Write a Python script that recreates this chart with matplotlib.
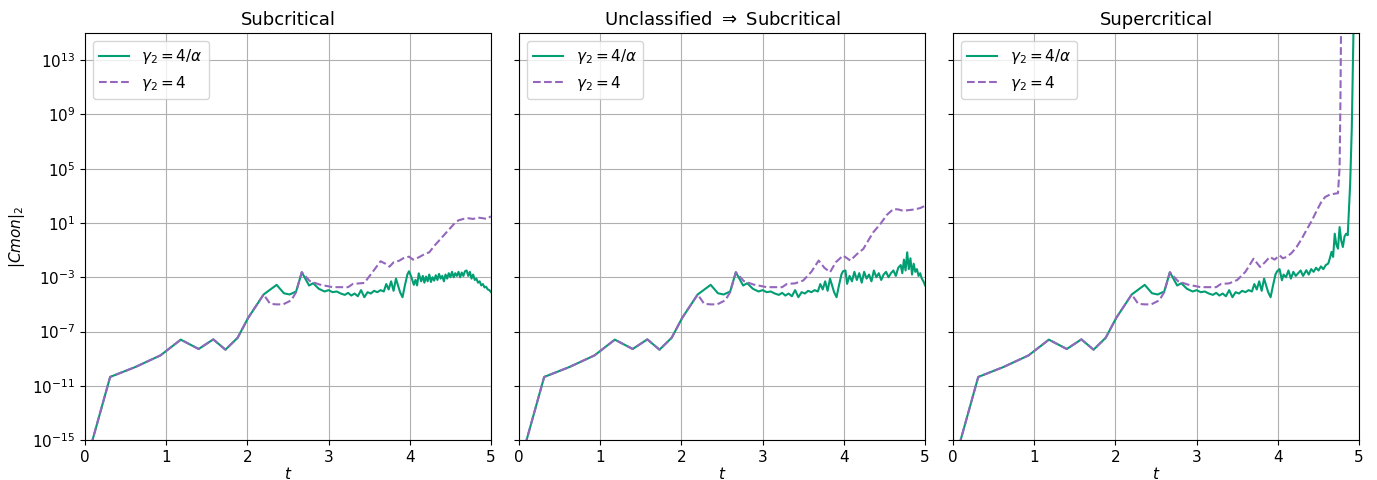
import numpy as np
import matplotlib
matplotlib.use("Agg")
import matplotlib.pyplot as plt

# values, stored as log10(|Cmon|_2)
titles = ["Subcritical", r"Unclassified $\Rightarrow$ Subcritical", "Supercritical"]
labels = [r"$\gamma_2 = 4/\alpha$", r"$\gamma_2 = 4$"]

# shared start (both series, all panels)
t_early = [0.0, 0.31, 0.62, 0.93, 1.18, 1.40, 1.58, 1.73, 1.88, 2.01, 2.20]
y_early = [-17.0, -10.35, -9.62, -8.76, -7.6, -8.29, -7.58, -8.34, -7.46, -5.99, -4.27]

# green middle part (same in all panels)
t_g_mid = [2.36, 2.45, 2.52, 2.60, 2.67, 2.76, 2.81, 2.88, 2.95, 3.00, 3.05, 3.10, 3.15,
           3.20, 3.24, 3.28, 3.32, 3.36, 3.40, 3.44, 3.48, 3.52, 3.56, 3.60, 3.64,
           3.68, 3.71, 3.74, 3.77, 3.80, 3.83, 3.86, 3.88, 3.91, 3.94, 3.97, 3.99]
y_g_mid = [-3.56, -4.18, -4.27, -4.05, -2.63, -3.61, -3.44, -3.85, -4.05, -3.95, -4.1, -4.05, -4.2,
           -4.3, -4.15, -4.35, -4.2, -4.4, -3.95, -4.47, -4.1, -4.2, -4.0, -4.1, -3.95,
           -4.05, -3.5, -3.9, -3.3, -4.0, -3.1, -3.7, -4.1, -4.47, -3.6, -2.8, -2.56]

# panel 1 green tail
t_g1 = [4.02, 4.05, 4.07, 4.09, 4.11, 4.14, 4.16, 4.18, 4.20, 4.22, 4.24, 4.26, 4.28, 4.30,
        4.32, 4.34, 4.36, 4.38, 4.40, 4.42, 4.44, 4.46, 4.48, 4.50, 4.52, 4.54, 4.56,
        4.58, 4.60, 4.62, 4.64, 4.66, 4.68, 4.70, 4.72, 4.74, 4.76, 4.78, 4.80, 4.82,
        4.84, 4.86, 4.88, 4.90, 4.92, 4.94, 4.96, 4.98, 5.00]
y_g1 = [-3.0, -3.56, -3.2, -3.6, -2.71, -3.3, -2.9, -3.4, -2.95, -3.3, -2.8, -3.35, -3.0, -3.25,
        -2.85, -3.2, -2.75, -3.1, -2.9, -3.3, -2.8, -3.1, -2.7, -3.0, -2.6, -3.0, -2.7,
        -2.9, -2.6, -3.0, -2.65, -2.9, -2.55, -2.5, -2.9, -2.6, -3.1, -2.8, -3.2, -3.1,
        -3.4, -3.3, -3.6, -3.5, -3.75, -3.7, -3.9, -3.95, -4.1]

# panel 2 green tail
t_g2 = [4.02, 4.04, 4.07, 4.10, 4.13, 4.16, 4.19, 4.22, 4.25, 4.28, 4.31, 4.34, 4.37, 4.40,
        4.43, 4.46, 4.49, 4.52, 4.55, 4.58, 4.61, 4.64, 4.67, 4.70, 4.72, 4.74, 4.76,
        4.78, 4.80, 4.82, 4.84, 4.86, 4.88, 4.90, 4.92, 4.94, 4.96, 4.98, 5.00]
y_g2 = [-2.5, -3.49, -2.9, -3.3, -2.6, -3.2, -2.7, -3.4, -2.6, -3.1, -2.8, -3.3, -2.5, -3.0,
        -2.7, -3.2, -2.8, -2.6, -3.0, -2.7, -2.5, -2.9, -2.3, -2.1, -2.7, -1.7, -2.5,
        -1.16, -2.4, -1.6, -2.8, -2.0, -2.6, -2.4, -2.9, -2.7, -3.1, -3.3, -3.6]

# panel 3 green tail
t_g3 = [4.02, 4.05, 4.07, 4.10, 4.13, 4.16, 4.19, 4.22, 4.25, 4.28, 4.31, 4.35, 4.38, 4.41,
        4.44, 4.47, 4.50, 4.53, 4.56, 4.59, 4.62, 4.64, 4.66, 4.68, 4.70, 4.72, 4.74,
        4.76, 4.78, 4.80, 4.82, 4.84, 4.86, 4.89, 4.91, 4.93, 4.95]
y_g3 = [-2.4, -3.22, -2.8, -3.0, -2.5, -3.1, -2.6, -2.9, -2.7, -2.5, -2.9, -2.48, -2.8, -2.4,
        -2.6, -2.3, -2.5, -2.2, -2.4, -2.1, -1.99, -1.6, -1.13, -1.5, 0.21, -0.6, -0.89,
        0.7, -0.3, -0.77, 0.0, 0.21, 0.1, 3.9, 8.0, 14.9, 17.0]

# purple middle part (same in all panels up to ~3.3)
t_p_mid = [2.28, 2.36, 2.44, 2.54, 2.60, 2.67, 2.77, 2.89, 3.05, 3.24, 3.30]
y_p_mid = [-4.96, -5.0, -5.0, -4.7, -4.1, -2.63, -3.29, -3.54, -3.73, -3.73, -3.49]

t_p1 = [3.44, 3.54, 3.64, 3.70, 3.75, 3.80, 3.87, 3.92, 3.99, 4.04, 4.07, 4.12, 4.18, 4.24,
        4.30, 4.36, 4.42, 4.48, 4.54, 4.60, 4.66, 4.72, 4.78, 4.84, 4.90, 4.95, 5.00]
y_p1 = [-3.42, -2.63, -1.82, -2.0, -2.22, -1.9, -1.78, -1.6, -1.48, -1.7, -1.65, -1.5, -1.3, -1.16,
        -0.7, -0.3, 0.1, 0.5, 0.9, 1.2, 1.3, 1.35, 1.3, 1.4, 1.35, 1.3, 1.5]

t_p2 = [3.40, 3.50, 3.60, 3.69, 3.76, 3.83, 3.90, 3.99, 4.04, 4.08, 4.16, 4.24, 4.30, 4.36,
        4.45, 4.53, 4.61, 4.67, 4.73, 4.80, 4.87, 4.94, 5.00]
y_p2 = [-3.45, -3.24, -2.6, -1.77, -2.3, -2.63, -1.9, -1.4, -1.6, -1.77, -1.3, -0.91, -0.3, 0.3,
        0.93, 1.6, 2.03, 2.0, 1.9, 1.95, 2.0, 2.1, 2.27]

t_p3 = [3.40, 3.50, 3.60, 3.70, 3.78, 3.84, 3.90, 3.96, 4.02, 4.06, 4.11, 4.17, 4.23, 4.29,
        4.35, 4.42, 4.48, 4.53, 4.58, 4.64, 4.70, 4.74, 4.76, 4.77, 4.78]
y_p3 = [-3.45, -3.2, -2.6, -1.63, -2.24, -1.9, -1.5, -1.7, -1.38, -1.6, -1.5, -1.2, -0.77, -0.2,
        0.46, 1.2, 1.93, 2.5, 2.91, 3.1, 3.16, 3.2, 5.12, 10.0, 17.0]

green_tails = [(t_g1, y_g1), (t_g2, y_g2), (t_g3, y_g3)]
purple_tails = [(t_p1, y_p1), (t_p2, y_p2), (t_p3, y_p3)]

green = "#029e73"
purple = "#9467bd"

fig, axes = plt.subplots(1, 3, figsize=(13.77, 4.8), dpi=100, sharey=True)
fig.subplots_adjust(left=0.0617, right=0.987, top=0.931, bottom=0.0833, wspace=0.069)

for i, ax in enumerate(axes):
    tg = t_early + t_g_mid + green_tails[i][0]
    yg = y_early + y_g_mid + green_tails[i][1]
    tp = t_early + t_p_mid + purple_tails[i][0]
    yp = y_early + y_p_mid + purple_tails[i][1]
    ax.plot(tg, 10.0 ** np.array(yg), color=green, lw=1.5, label=labels[0])
    ax.plot(tp, 10.0 ** np.array(yp), color=purple, lw=1.5, ls="--", label=labels[1])
    ax.set_yscale("log")
    ax.set_xlim(0, 5)
    ax.set_ylim(1e-15, 1e15)
    ax.set_yticks([10.0 ** k for k in range(-15, 14, 4)])
    ax.minorticks_off()
    ax.grid(True, which="major")
    ax.set_title(titles[i], fontsize=13)
    ax.set_xlabel("$t$", fontsize=11, labelpad=1)
    ax.tick_params(labelsize=11)
    ax.legend(loc="upper left", fontsize=11)

axes[0].set_ylabel(r"$|Cmon|_2$", fontsize=11)

fig.savefig("out.png", dpi=100)
